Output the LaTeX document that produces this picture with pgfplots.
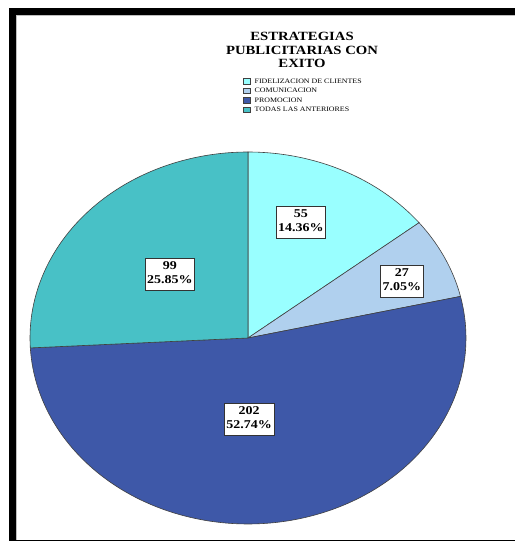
\documentclass[border=0pt]{standalone}
\usepackage{fontspec}
\setmainfont{Liberation Serif}
\usepackage{graphicx}
\usepackage{pgfplots}
\usepackage{pgfplotstable}
\pgfplotsset{compat=1.18}
\definecolor{cFid}{RGB}{153,255,255}
\definecolor{cCom}{RGB}{176,208,238}
\definecolor{cPro}{RGB}{62,88,168}
\definecolor{cTod}{RGB}{72,193,198}

\pgfplotstableread{
name value
Fid 55
Com 27
Pro 202
Tod 99
}\piedata

\pgfplotstableread{
x y v p
0.243 0.624 55 14.36
0.706 0.306 27 7.05
-0.358 0.344 99 25.85
0.005 -0.435 202 52.74
}\labeldata

\newcommand{\sx}[1]{\scalebox{1.17}[1]{#1}}

\begin{document}
\begin{tikzpicture}
\path[use as bounding box] (0bp,0bp) rectangle (515bp,544bp);
% frame
\fill[black] (9bp,529bp) rectangle (515bp,536bp);
\fill[black] (9bp,3bp) rectangle (16bp,536bp);
\fill[black] (9bp,2.5bp) rectangle (515bp,3.8bp);
\draw[black!25, line width=0.8bp] (16.6bp,4bp) -- (16.6bp,528.4bp) -- (515bp,528.4bp);

\pgfplotstablegetelem{0}{value}\of\piedata \let\va\pgfplotsretval
\pgfplotstablegetelem{1}{value}\of\piedata \let\vb\pgfplotsretval
\pgfplotstablegetelem{2}{value}\of\piedata \let\vc\pgfplotsretval
\pgfplotstablegetelem{3}{value}\of\piedata \let\vd\pgfplotsretval
\pgfmathsetmacro\tot{\va+\vb+\vc+\vd}
\pgfmathsetmacro\aA{90}
\pgfmathsetmacro\aB{90-360*(\va/\tot)}
\pgfmathsetmacro\aC{\aB-360*(\vb/\tot)}
\pgfmathsetmacro\aD{\aC-360*(\vc/\tot)}
\pgfmathsetmacro\aE{\aD-360*(\vd/\tot)}

\node[align=center, font=\bfseries\fontsize{12.6}{13.2}\selectfont, inner sep=0pt]
  at (302bp,494bp) {\sx{ESTRATEGIAS}\\\sx{PUBLICITARIAS CON}\\\sx{EXITO}};

\begin{axis}[
  at={(248bp,206bp)}, anchor=center,
  scale only axis, width=436bp, height=372bp,
  xmin=-1, xmax=1, ymin=-1, ymax=1,
  hide axis, clip=false,
  legend image code/.code={\draw[#1,line width=0.5bp] (0bp,-2.8bp) rectangle (6.5bp,2.8bp);},
  legend cell align=left,
  legend style={draw=none, fill=none, at={(0.4885,1.203)}, anchor=north west,
    inner sep=0pt, row sep=0pt,
    font=\fontsize{6.8}{8}\selectfont,
    nodes={inner sep=1.5bp, text height=5.3bp, text depth=1.2bp},
    /tikz/every odd column/.append style={column sep=3bp}},
]
\addplot[fill=cFid, draw=black!75, line width=0.6bp, domain=\aB:\aA, samples=60, variable=\t] ({cos(\t)},{sin(\t)}) -- (axis cs:0,0) -- cycle;
\addplot[fill=cCom, draw=black!75, line width=0.6bp, domain=\aC:\aB, samples=40, variable=\t] ({cos(\t)},{sin(\t)}) -- (axis cs:0,0) -- cycle;
\addplot[fill=cPro, draw=black!75, line width=0.6bp, domain=\aD:\aC, samples=120, variable=\t] ({cos(\t)},{sin(\t)}) -- (axis cs:0,0) -- cycle;
\addplot[fill=cTod, draw=black!75, line width=0.6bp, domain=\aE:\aD, samples=80, variable=\t] ({cos(\t)},{sin(\t)}) -- (axis cs:0,0) -- cycle;
\legend{\sx{FIDELIZACION DE CLIENTES}, \sx{COMUNICACION}, \sx{PROMOCION}, \sx{TODAS LAS ANTERIORES}}
\addplot[only marks, mark=none, forget plot,
  visualization depends on={\thisrow{v} \as \vv},
  visualization depends on={\thisrow{p} \as \pp},
  nodes near coords={\sx{\begin{tabular}{@{}c@{}}\pgfmathprintnumber[fixed,precision=0,assume math mode=true]{\vv}\\\pgfmathprintnumber[fixed,precision=2,fixed zerofill,assume math mode=true]{\pp}\%\end{tabular}}},
  nodes near coords align={center},
  every node near coord/.append style={anchor=center, draw=black!80, fill=white, inner sep=2bp,
    line width=0.6bp, font=\bfseries\fontsize{12}{14}\selectfont}]
  table[x=x, y=y] {\labeldata};
\end{axis}
\end{tikzpicture}
\end{document}
